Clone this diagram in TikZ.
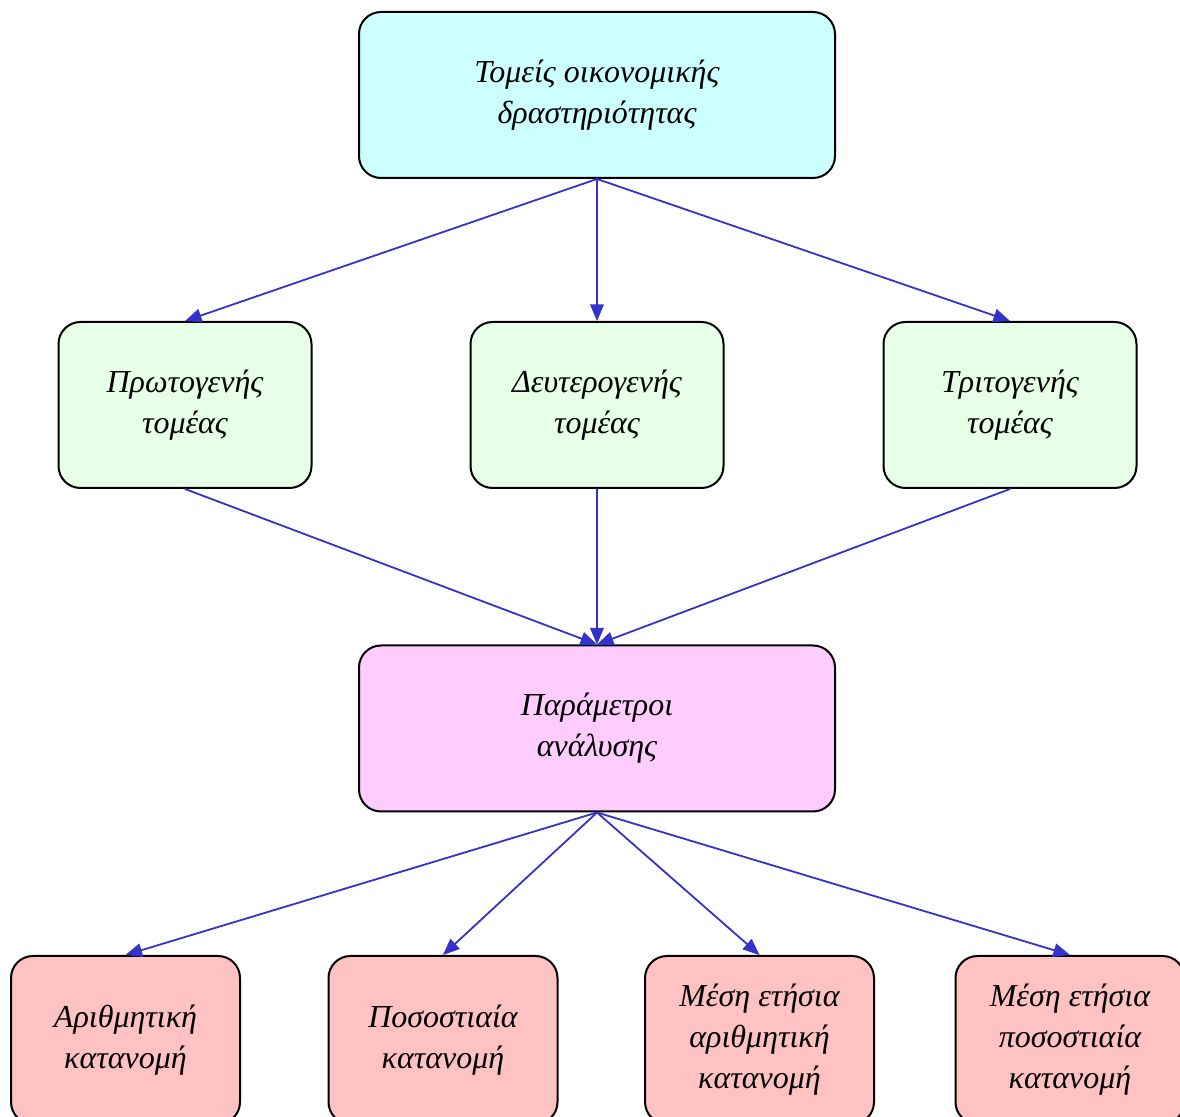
\documentclass[tikz,border=0pt]{standalone}
\usepackage{fontspec}
\setmainfont{Liberation Serif}
\usepackage{tikz}
\usetikzlibrary{arrows}
\usepackage{color}
\definecolor{arrowblue}{RGB}{51,51,204}
\definecolor{topfill}{RGB}{204,255,255}
\definecolor{secfill}{RGB}{230,255,230}
\definecolor{parfill}{RGB}{255,204,255}
\definecolor{botfill}{RGB}{255,194,194}

\begin{document}
\begin{tikzpicture}[line cap=round,line join=round,>=triangle 45,x=0.5pt,y=-0.5pt,
	box/.style={draw=black,line width=1pt,rounded corners=11pt,align=center,inner sep=0pt,
		font=\itshape\fontsize{16}{20.5}\selectfont},
	link/.style={->,color=arrowblue,line width=0.9pt}]
		\useasboundingbox (0,0) rectangle (1180,1117);
		%\draw[color=gray!30,step=50] (0,0) grid (1180,1117);
		\node[box,fill=topfill,minimum width=238pt,minimum height=83pt] (sectors) at (597,95) {Τομείς οικονομικής\\δραστηριότητας};
		\node[box,fill=parfill,minimum width=238pt,minimum height=83pt] (params) at (597,728.5) {Παράμετροι\\ανάλυσης};
		\foreach \x/\name/\txt in {185/prim/{Πρωτογενής\\τομέας},597/sec/{Δευτερογενής\\τομέας},1010/tert/{Τριτογενής\\τομέας}}
		{
		\node[box,fill=secfill,minimum width=126.5pt,minimum height=83pt] (\name) at (\x,405) {\txt};
		\draw[link] (sectors.south) -- (\name.north);
		\draw[link] (\name.south) -- (params.north);
		}
		\foreach \x/\name/\txt in {125.5/arith/{Αριθμητική\\κατανομή},443/perc/{Ποσοστιαία\\κατανομή},759.5/mavg/{Μέση ετήσια\\αριθμητική\\κατανομή},1070/pavg/{Μέση ετήσια\\ποσοστιαία\\κατανομή}}
		{
		\node[box,fill=botfill,minimum width=114.5pt,minimum height=84pt] (\name) at (\x,1040) {\txt};
		\draw[link] (params.south) -- (\name.north);
		}
\end{tikzpicture}
\end{document}
